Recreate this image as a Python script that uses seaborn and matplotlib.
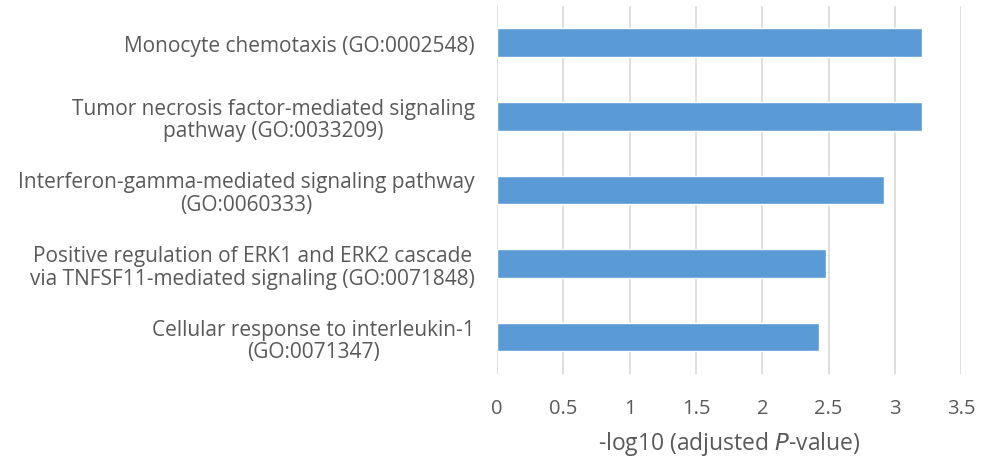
import matplotlib
matplotlib.use("Agg")
import matplotlib.pyplot as plt
import seaborn as sns
import pandas as pd

terms = [
    "Monocyte chemotaxis (GO:0002548)",
    "Tumor necrosis factor-mediated signaling\npathway (GO:0033209)",
    "Interferon-gamma-mediated signaling pathway\n(GO:0060333)",
    "Positive regulation of ERK1 and ERK2 cascade\nvia TNFSF11-mediated signaling (GO:0071848)",
    "Cellular response to interleukin-1\n(GO:0071347)",
]
values = [3.20, 3.20, 2.92, 2.48, 2.43]
xticks = [0, 0.5, 1, 1.5, 2, 2.5, 3, 3.5]
xtick_labels = ["0", "0.5", "1", "1.5", "2", "2.5", "3", "3.5"]

df = pd.DataFrame({"term": terms, "value": values})

sns.set_theme(style="white")
plt.rcParams["font.family"] = ["Open Sans", "DejaVu Sans"]

fig = plt.figure(figsize=(9.82, 4.64), dpi=100)
ax = fig.add_axes([0.506, 0.192, 0.473, 0.793])

sns.barplot(data=df, x="value", y="term", color="#5b9bd5", width=0.39,
            saturation=1, ax=ax, zorder=3)

ax.set_xlim(0, 3.5)
ax.set_xticks(xticks)
ax.set_xticklabels(xtick_labels)
ax.grid(axis="x", color="#d9d9d9", linewidth=1.2, zorder=0)
ax.grid(axis="y", visible=False)
ax.set_axisbelow(True)
for s in ax.spines.values():
    s.set_visible(False)
ax.tick_params(axis="x", length=0, colors="#595959", labelsize=14.5, pad=17)
ax.tick_params(axis="y", length=0, colors="#595959", labelsize=15, pad=16)
for lbl in ax.get_yticklabels():
    lbl.set_multialignment("center")
    lbl.set_color("#595959")
    lbl.set_linespacing(1.1)
ax.set_ylabel("")
ax.set_xlabel("-log10 (adjusted $\\it{P}$-value)", fontsize=16.5, color="#595959", labelpad=8)

fig.savefig("out.png", dpi=100)
